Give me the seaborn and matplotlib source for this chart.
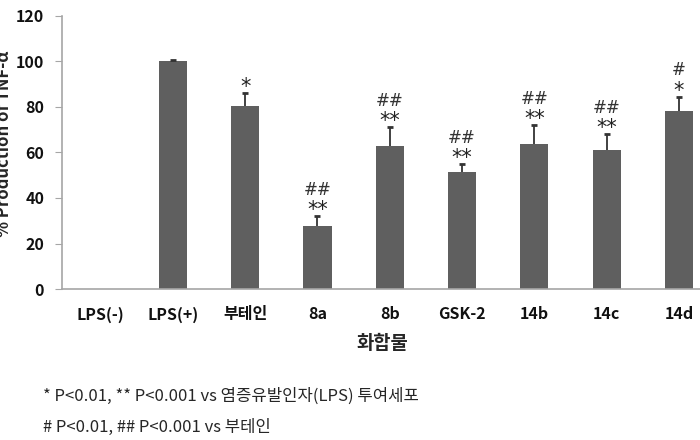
import matplotlib
matplotlib.use("Agg")
import matplotlib.pyplot as plt
import seaborn as sns
import numpy as np

# --- data ---
compounds = ['LPS(-)', 'LPS(+)', '부테인', '8a', '8b', 'GSK-2', '14b', '14c', '14d']
tnf_pct = [0, 100, 80.6, 27.7, 63.0, 51.6, 63.9, 61.2, 78.4]
tnf_err = [0, 0.4, 5.7, 4.4, 8.2, 3.2, 8.1, 6.8, 6.1]
star_marks = ['', '', '*', '**', '**', '**', '**', '**', '*']
hash_marks = ['', '', '', '##', '##', '##', '##', '##', '#']

sns.set_style("white")
plt.rcParams['font.family'] = ['Noto Sans CJK KR', 'DejaVu Sans']

fig = plt.figure(figsize=(7, 4.4), dpi=100)
ax = fig.add_axes([0.089, 0.343, 0.915, 0.621])

bar_color = '#5f5f5f'
sns.barplot(x=compounds, y=tnf_pct, color=bar_color, width=0.39,
            saturation=1, ax=ax, edgecolor='none')

# upward-only error bars with a cap on top
pos = np.arange(len(compounds))
vals = np.array(tnf_pct)
errs = np.array(tnf_err)
mask = vals > 0
ax.vlines(pos[mask], vals[mask], vals[mask] + errs[mask], color='#333333', lw=1.3)
ax.plot(pos[mask], vals[mask] + errs[mask], ls='none', marker='_',
        ms=5, mew=2, color='#333333')

# significance marks
for i in range(len(compounds)):
    top = tnf_pct[i] + tnf_err[i]
    if star_marks[i]:
        ax.annotate(star_marks[i], (i, top), xytext=(0, -3), textcoords='offset points',
                    ha='center', va='bottom', fontsize=15, color='#222222',
                    family='DejaVu Sans')
    if hash_marks[i]:
        ax.annotate(hash_marks[i], (i, top), xytext=(0, 12.5), textcoords='offset points',
                    ha='center', va='bottom', fontsize=12, color='#333333',
                    family='DejaVu Sans')

ax.set_ylim(0, 120)
ax.set_yticks(range(0, 121, 20))
ax.set_xlim(-0.53, 8.33)

for s in ['top', 'right']:
    ax.spines[s].set_visible(False)
for s in ['left', 'bottom']:
    ax.spines[s].set_color('#a6a6a6')
    ax.spines[s].set_linewidth(1.2)

ax.tick_params(axis='y', left=True, length=5, color='#a6a6a6', labelsize=11.5, pad=8)
ax.tick_params(axis='x', bottom=False, labelsize=11.5, pad=9)
for lbl in ax.get_xticklabels() + ax.get_yticklabels():
    lbl.set_fontweight('bold')
    lbl.set_color('#111111')

ax.set_xlabel('화합물', fontsize=13.5, fontweight='bold', labelpad=8)
ax.set_ylabel('% Production of TNF-α', fontsize=12, fontweight='bold')
ax.yaxis.set_label_coords(-0.077, 0.53)

fig.text(0.061, 0.089, '* P<0.01, ** P<0.001 vs 염증유발인자(LPS) 투여세포', fontsize=12)
fig.text(0.061, 0.018, '# P<0.01, ## P<0.001 vs 부테인', fontsize=12)

fig.savefig('out.png', dpi=100)
